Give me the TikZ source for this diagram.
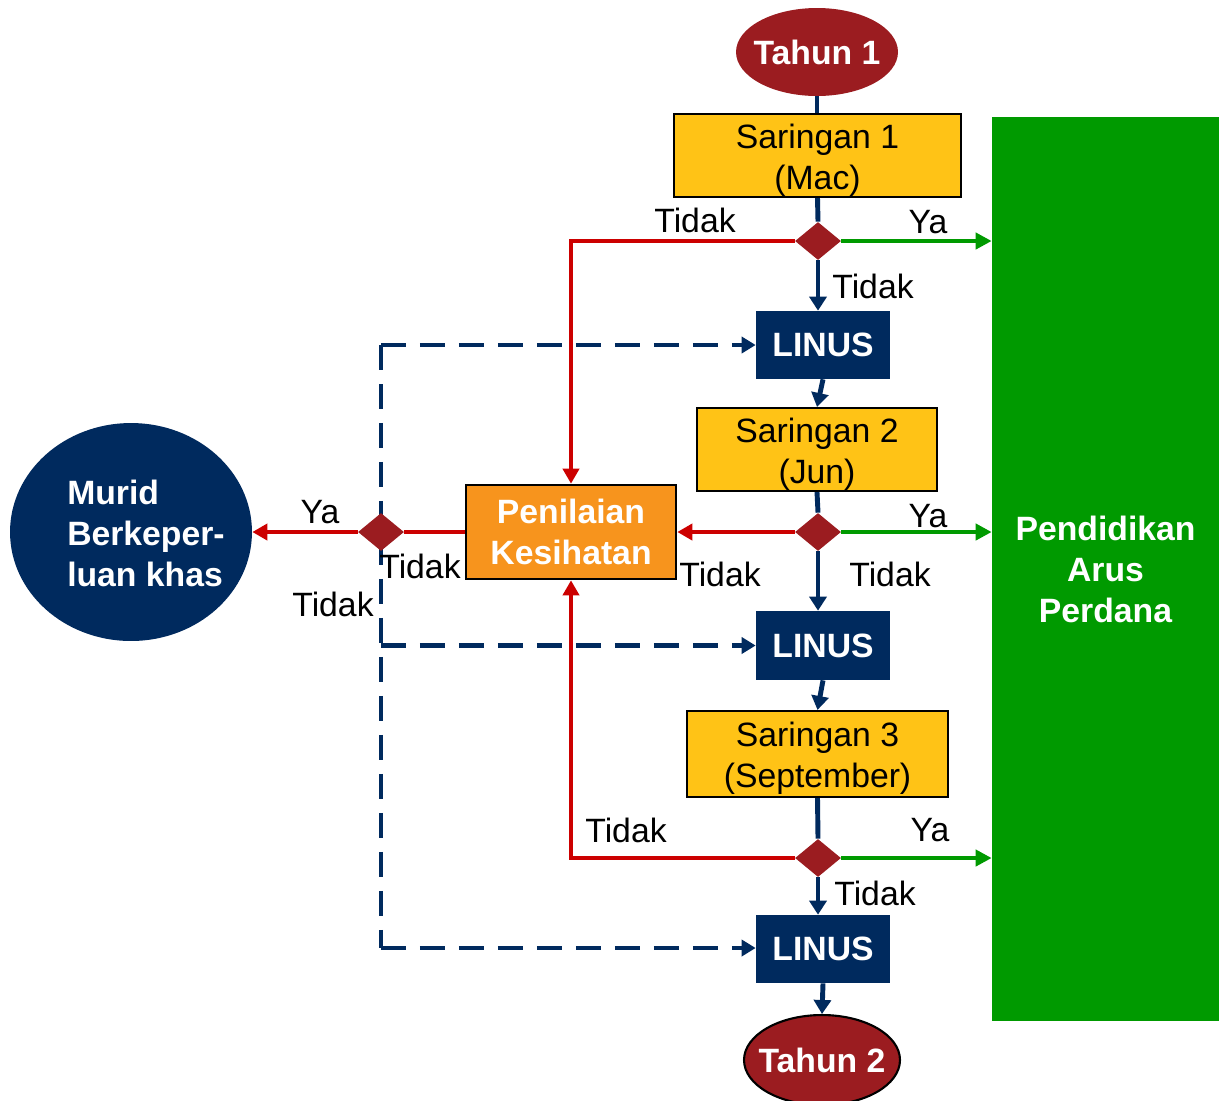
\documentclass[tikz,border=0pt]{standalone}
\usepackage{fontspec}
\setmainfont{Liberation Sans}
\usetikzlibrary{shapes.geometric,arrows.meta,backgrounds}
\definecolor{dred}{HTML}{9B1C20}
\definecolor{navy}{HTML}{002A5E}
\definecolor{gold}{HTML}{FFC316}
\definecolor{orng}{HTML}{F7941D}
\definecolor{lred}{HTML}{CC0000}
\definecolor{grn}{HTML}{009A00}
\begin{document}
\begin{tikzpicture}[x=0.02cm,y=-0.02cm,
  font=\fontsize{19.2}{23.3}\selectfont,
  box/.style={draw=black,line width=1.2pt,fill=gold,align=center,inner sep=0pt},
  boxtext/.style={align=center,inner sep=0pt,yshift=-0.1cm},
  linusbox/.style={fill=navy,text=white,font=\fontsize{19.2}{23.3}\selectfont\bfseries,minimum width=2.68cm,minimum height=1.36cm,inner sep=0pt},
  dec/.style={diamond,fill=dred,minimum width=0.92cm,minimum height=0.76cm,inner sep=0pt},
  oval/.style={ellipse,fill=dred,inner sep=0pt},
  ovaltext/.style={text=white,font=\fontsize{19.2}{23.3}\selectfont\bfseries,inner sep=0pt},
  bl/.style={draw=navy,line width=2.8pt},
  blarrow/.style={bl,-{Triangle[length=0.28cm,width=0.34cm]}},
  rl/.style={draw=lred,line width=2.3pt},
  rlarrow/.style={rl,-{Triangle[length=0.3cm,width=0.32cm]}},
  glarrow/.style={draw=grn,line width=2.3pt,-{Triangle[length=0.32cm,width=0.32cm]}},
  dsh/.style={draw=navy,line width=2.4pt,dash pattern=on 0.5cm off 0.28cm},
  dsharrow/.style={dsh,-{Triangle[length=0.28cm,width=0.32cm]}},
  lab/.style={inner sep=0pt}
]
\useasboundingbox (0,0) rectangle (1219,1100);

% nodes
\node[oval,minimum width=3.24cm,minimum height=1.76cm,label={[ovaltext]center:Tahun 1}] (t1) at (817,52) {};
\node[box,minimum width=5.74cm,minimum height=1.66cm,label={[boxtext]center:{Saringan 1\\(Mac)}}] (s1) at (817.5,155.5) {};
\node[dec] (d1) at (818,241) {};
\node[linusbox] (l1) at (823,345) {LINUS};
\node[box,minimum width=4.8cm,minimum height=1.66cm,label={[boxtext]center:{Saringan 2\\(Jun)}}] (s2) at (817,449.5) {};
\node[dec] (d2) at (818,532) {};
\node[linusbox,minimum height=1.38cm] (l2) at (823,645.5) {LINUS};
\node[box,minimum width=5.22cm,minimum height=1.72cm,label={[boxtext,yshift=0.02cm]center:{Saringan 3\\(September)}}] (s3) at (817.5,754) {};
\node[dec] (d3) at (818,858) {};
\node[linusbox] (l3) at (823,949) {LINUS};
\node[oval,draw=black,line width=1.2pt,minimum width=3.12cm,minimum height=1.8cm,label={[ovaltext]center:Tahun 2}] (t2) at (822,1060) {};
\node[box,fill=orng,text=white,font=\fontsize{19.2}{23.3}\selectfont\bfseries,line width=1.5pt,minimum width=4.2cm,minimum height=1.88cm] (pk) at (571,532) {Penilaian\\Kesihatan};
\node[dec] (dl) at (381,532) {};
\node[ellipse,fill=navy,minimum width=4.84cm,minimum height=4.36cm,inner sep=0pt] (murid) at (131,532) {};
\node[text=white,font=\fontsize{19.2}{23.3}\selectfont\bfseries,align=left,inner sep=0pt] (muridtext) at (146,533) {Murid\\Berkeper-\\luan khas};
\node[fill=grn,text=white,font=\fontsize{19.2}{23.3}\selectfont\bfseries,align=center,minimum width=4.54cm,minimum height=18.08cm,inner sep=0pt] (ap) at (1105.5,569) {Pendidikan\\Arus\\Perdana};

\coordinate (dtop) at (381,345);
\coordinate (dbot) at (381,948);

% connectors
\begin{pgfonlayer}{background}
\fill[white] (0,0) rectangle (1219,1100);
\draw[dsh] (dtop) -- (dbot);
\draw[dsharrow] (dtop) -- (l1.west);
\draw[dsharrow] (dtop |- l2.west) -- (l2.west);
\draw[dsharrow] (dbot) -- (dbot -| l3.west);
\end{pgfonlayer}

\draw[bl] (t1.south) -- (t1.south |- s1.north);
\draw[bl] (s1.south) -- (d1.north);
\draw[blarrow] (d1.south) -- (d1.south |- l1.north);
\draw[blarrow] (l1.south) -- (s2.north);
\draw[bl] (s2.south) -- (d2.north);
\draw[blarrow] (d2.south) -- (d2.south |- l2.north);
\draw[blarrow] (l2.south) -- (s3.north);
\draw[bl] (s3.south) -- (d3.north);
\draw[blarrow] (d3.south) -- (d3.south |- l3.north);
\draw[blarrow] (l3.south) -- (t2.north);

\draw[rlarrow] (d1.west) -| (pk.north);
\draw[rlarrow] (d2.west) -- (pk.east);
\draw[rlarrow] (d3.west) -| (pk.south);
\draw[rl] (pk.west) -- (dl.east);
\draw[rlarrow] (dl.west) -- (murid.east);

\draw[glarrow] (d1.east) -- (d1.east -| ap.west);
\draw[glarrow] (d2.east) -- (d2.east -| ap.west);
\draw[glarrow] (d3.east) -- (d3.east -| ap.west);

% labels
\node[lab] (a1) at (695,220) {Tidak};
\node[lab] (a2) at (928,222) {Ya};
\node[lab] (a3) at (873,286) {Tidak};
\node[lab] (a4) at (928,516) {Ya};
\node[lab] (a5) at (720,574) {Tidak};
\node[lab] (a6) at (890,574) {Tidak};
\node[lab] (a7) at (626,830) {Tidak};
\node[lab] (a8) at (930,830) {Ya};
\node[lab] (a9) at (875,893) {Tidak};
\node[lab] (a10) at (320,512) {Ya};
\node[lab] (a11) at (420,566) {Tidak};
\node[lab] (a12) at (333,604) {Tidak};
\end{tikzpicture}
\end{document}
